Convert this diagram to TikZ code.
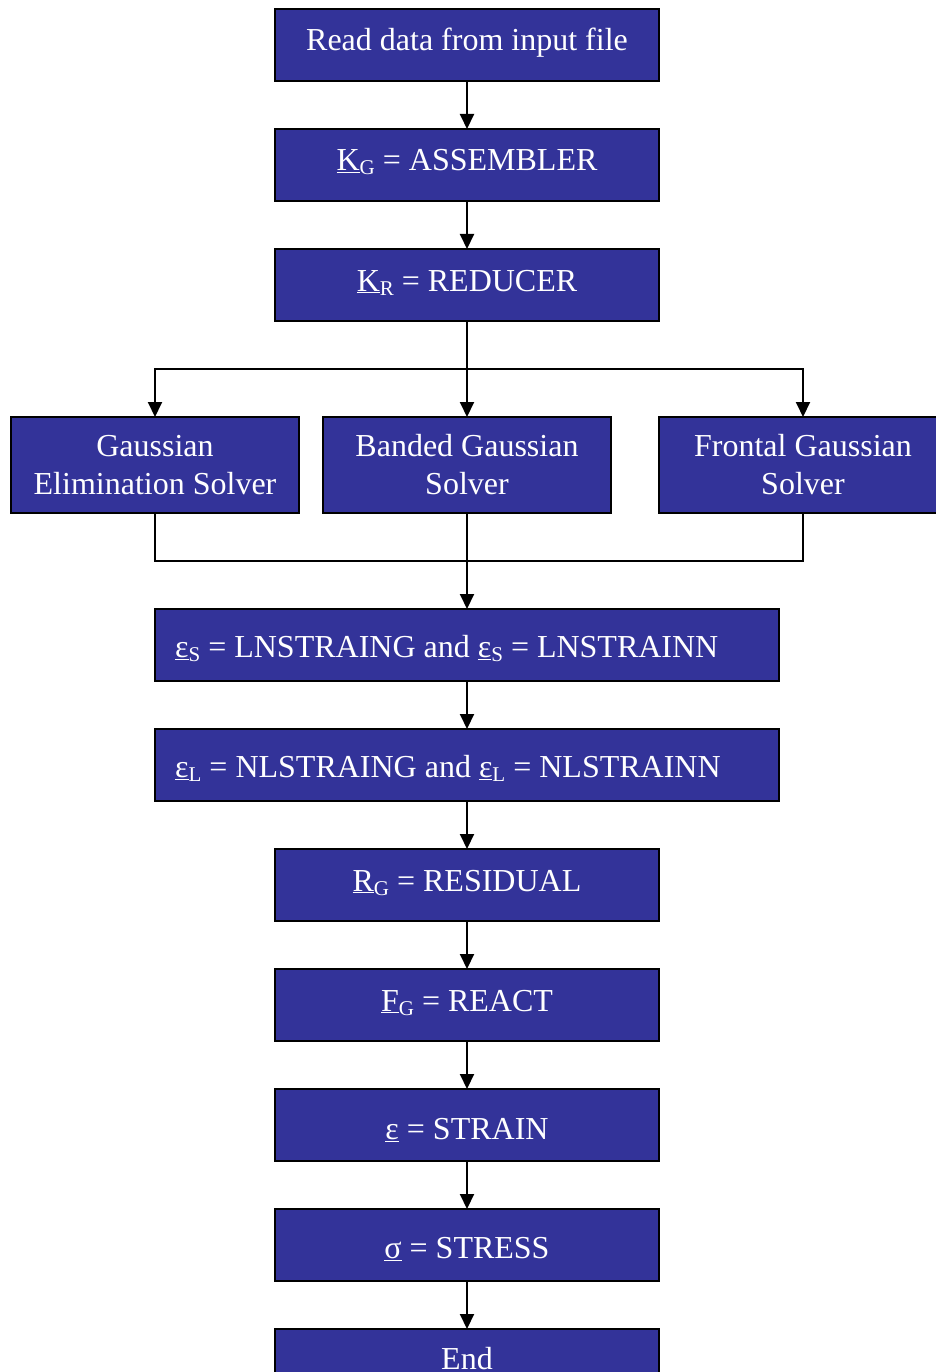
\documentclass[tikz,border=0pt]{standalone}
\usepackage{fontspec}
\setmainfont{Liberation Serif}
\usetikzlibrary{arrows.meta}
\definecolor{boxblue}{HTML}{333399}
\newcommand{\mysubs}[1]{\raisebox{-4pt}{\fontsize{21}{21}\selectfont #1}}
\begin{document}
\begin{tikzpicture}[x=1pt,y=-1pt,
  box/.style={draw=black, line width=2pt, fill=boxblue, anchor=north west, inner sep=0pt, outer sep=0pt},
  widebox/.style={box, minimum width=384pt, minimum height=72pt},
  longbox/.style={box, minimum width=624pt, minimum height=72pt},
  solverbox/.style={box, minimum width=288pt, minimum height=96pt},
  txt/.style={text=white, font=\fontsize{32}{38}\selectfont, anchor=base, inner sep=0pt},
  conn/.style={line width=2pt, draw=black},
  arr/.style={conn, -{Triangle[width=14pt,length=15pt]}}]
\useasboundingbox (0,0) rectangle (936,1372);

% boxes
\node[widebox] (b1) at (275,9) {};
\node[widebox] (b2) at (275,129) {};
\node[widebox] (b3) at (275,249) {};
\node[solverbox] (sA) at (11,417) {};
\node[solverbox] (sB) at (323,417) {};
\node[solverbox] (sC) at (659,417) {};
\node[longbox] (b4) at (155,609) {};
\node[longbox] (b5) at (155,729) {};
\node[widebox] (b6) at (275,849) {};
\node[widebox] (b7) at (275,969) {};
\node[widebox] (b8) at (275,1089) {};
\node[widebox] (b9) at (275,1209) {};
\node[widebox] (b10) at (275,1329) {};

% texts
\node[txt] (t1) at (467,51) {Read data from input file};
\node[txt] (t2) at (467,171) {\underline{K}\mysubs{G} = ASSEMBLER};
\node[txt] (t3) at (467,291) {\underline{K}\mysubs{R} = REDUCER};
\node[txt] (tA1) at (155,456) {Gaussian};
\node[txt] (tA2) at (155,494) {Elimination Solver};
\node[txt] (tB1) at (467,456) {Banded Gaussian};
\node[txt] (tB2) at (467,494) {Solver};
\node[txt] (tC1) at (803,456) {Frontal Gaussian};
\node[txt] (tC2) at (803,494) {Solver};
\node[txt, anchor=base west] (t4) at (175,657) {\underline{ε}\mysubs{S} = LNSTRAING and \underline{ε}\mysubs{S} = LNSTRAINN};
\node[txt, anchor=base west] (t5) at (175,777) {\underline{ε}\mysubs{L} = NLSTRAING and \underline{ε}\mysubs{L} = NLSTRAINN};
\node[txt] (t6) at (467,891) {\underline{R}\mysubs{G} = RESIDUAL};
\node[txt] (t7) at (467,1011) {\underline{F}\mysubs{G} = REACT};
\node[txt] (t8) at (467,1139) {\underline{ε} = STRAIN};
\node[txt] (t9) at (467,1258) {\underline{σ} = STRESS};
\node[txt] (t10) at (467,1369) {End};

% connectors
\draw[arr] (b1.south) -- (b2.north);
\draw[arr] (b2.south) -- (b3.north);
\coordinate (split) at (467,369);
\draw[conn] (b3.south) -- (split);
\draw[arr] (split) -| (sA.north);
\draw[arr] (split) -- (sB.north);
\draw[arr] (split) -| (sC.north);
\coordinate (merge) at (467,561);
\draw[conn] (sA.south) |- (merge);
\draw[conn] (sC.south) |- (merge);
\draw[conn] (sB.south) -- (merge);
\draw[arr] (merge) -- (b4.north);
\draw[arr] (b4.south) -- (b5.north);
\draw[arr] (b5.south) -- (b6.north);
\draw[arr] (b6.south) -- (b7.north);
\draw[arr] (b7.south) -- (b8.north);
\draw[arr] (b8.south) -- (b9.north);
\draw[arr] (b9.south) -- (b10.north);
\end{tikzpicture}
\end{document}
